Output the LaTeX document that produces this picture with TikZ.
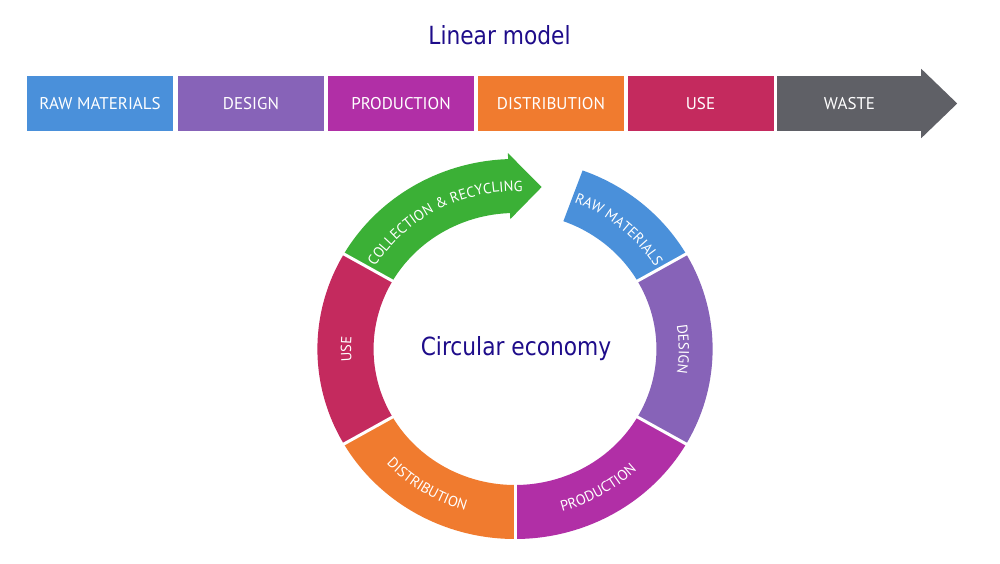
\documentclass[tikz,border=0pt]{standalone}
\usepackage{fontspec}
\setmainfont{PT Sans}
\newfontfamily\titlefont[FakeStretch=0.87]{DejaVu Sans}
\usetikzlibrary{decorations.text}
\definecolor{rawc}{RGB}{74,144,218}
\definecolor{desc}{RGB}{135,99,184}
\definecolor{proc}{RGB}{177,47,166}
\definecolor{disc}{RGB}{240,123,47}
\definecolor{usec}{RGB}{196,42,94}
\definecolor{wastec}{RGB}{95,96,102}
\definecolor{greenc}{RGB}{59,176,54}
\definecolor{titlec}{RGB}{30,12,138}
\def\cx{515}
\def\cy{214}
\def\kx{1.04}
\def\ro{190}
\def\ri{136}
\newcommand\ep[2]{({\cx+\kx*#1*cos(#2)},{\cy+#1*sin(#2)})}
\newcommand\ringseg[3]{%
  \fill[#3] \ep{\ro}{#1} arc[start angle=#1, end angle=#2, x radius={\kx*\ro pt}, y radius={\ro pt}]
    -- \ep{\ri}{#2} arc[start angle=#2, end angle=#1, x radius={\kx*\ri pt}, y radius={\ri pt}] -- cycle;}
\newcommand\ringtext[4]{% radius, start, end, text
  \path[decorate, decoration={text along path, text align=center, text color=white,
    text={|\fontsize{14.6}{16}\selectfont|#4}}]
    \ep{#1}{#2} arc[start angle=#2, end angle=#3, x radius={\kx*#1 pt}, y radius={#1 pt}];}
\tikzset{
  box/.style={minimum width=146pt, minimum height=55pt, inner sep=0pt, text=white,
    font=\fontsize{17}{19}\selectfont},
  title/.style={text=titlec, font=\titlefont\fontsize{25}{28}\selectfont, anchor=base, inner sep=0pt}
}
\begin{document}
\begin{tikzpicture}[x=1pt,y=1pt]
\useasboundingbox (0,0) rectangle (1000,563);
\fill[white] (0,0) rectangle (1000,563);
% Linear model
\node[title] (ltitle) at (499.5,518) {Linear model};
\node[box, fill=rawc] (lraw) at (100,459.5) {RAW MATERIALS};
\node[box, fill=desc] (ldes) at (251,459.5) {DESIGN};
\node[box, fill=proc] (lpro) at (401,459.5) {PRODUCTION};
\node[box, fill=disc] (ldis) at (551,459.5) {DISTRIBUTION};
\node[box, fill=usec] (luse) at (700.5,459.5) {USE};
\node[box, fill=wastec, minimum width=145pt] (lwaste) at (849.5,459.5) {WASTE};
\fill[wastec] ([xshift=-1pt,yshift=7pt]lwaste.north east) -- ([xshift=35pt]lwaste.east)
  -- ([xshift=-1pt,yshift=-7pt]lwaste.south east) -- cycle;
% Circular economy
\ringseg{30}{70}{rawc}
\ringseg{-30}{30}{desc}
\ringseg{270}{330}{proc}
\ringseg{210}{270}{disc}
\ringseg{150}{210}{usec}
\fill[greenc] \ep{\ro}{150} arc[start angle=150, end angle=92, x radius={\kx*\ro pt}, y radius={\ro pt}]
  -- \ep{196}{92} -- \ep{164}{81} -- \ep{130}{92} -- \ep{\ri}{92}
  arc[start angle=92, end angle=150, x radius={\kx*\ri pt}, y radius={\ri pt}] -- cycle;
\foreach \a in {30,150,210,270,330}{
  \draw[white, line width=3pt] \ep{126}{\a} -- \ep{200}{\a};
}
\ringtext{157.5}{72}{28}{RAW MATERIALS}
\ringtext{157.5}{30}{-30}{DESIGN}
\ringtext{157.5}{210}{150}{USE}
\ringtext{157.5}{150}{86}{COLLECTION {\&} RECYCLING}
\ringtext{168.5}{208}{268}{DISTRIBUTION}
\ringtext{168.5}{270}{330}{PRODUCTION}
\node[title] (ctitle) at (516,208) {Circular economy};
\end{tikzpicture}
\end{document}
